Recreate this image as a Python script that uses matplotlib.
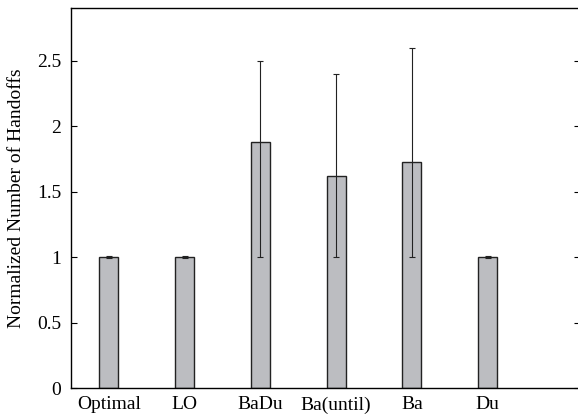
import numpy as np
import matplotlib
matplotlib.use("Agg")
import matplotlib.pyplot as plt

### Data ###
schemes = ["Optimal", "LO", "BaDu", "Ba(until)", "Ba", "Du"]
means = [1.0, 1.0, 1.88, 1.62, 1.73, 1.0]
err_low = [0.99, 0.99, 1.0, 1.0, 1.0, 0.99]    # lower end of error bar
err_high = [1.01, 1.01, 2.5, 2.4, 2.6, 1.01]   # upper end of error bar

plt.rcParams['font.family'] = ['Liberation Serif', 'DejaVu Serif']
plt.rcParams['font.size'] = 14

x = np.arange(len(schemes))
means = np.array(means)
yerr = [means - np.array(err_low), np.array(err_high) - means]

fig = plt.figure(figsize=(5.78, 4.19), dpi=100)
ax = fig.add_axes([71 / 578, 31 / 419, 509 / 578, 380 / 419])

ax.bar(x, means, width=0.25, color="#bcbdc1", edgecolor="#222222", linewidth=1.0,
       zorder=2)
ax.errorbar(x, means, yerr=yerr, fmt="none", ecolor="#222222", elinewidth=0.8,
            capsize=2.5, capthick=0.8, zorder=3)

ax.set_xlim(-0.5, 6.22)
ax.set_ylim(0, 2.905)
ax.set_yticks([0, 0.5, 1, 1.5, 2, 2.5])
ax.set_yticklabels(["0", "0.5", "1", "1.5", "2", "2.5"])
ax.set_xticks(x)
ax.set_xticklabels(schemes)
ax.tick_params(axis='y', direction='in', length=4, right=True, pad=7)
ax.tick_params(axis='x', length=0, pad=6)
ax.set_ylabel("Normalized Number of Handoffs", labelpad=9)
for s in ax.spines.values():
    s.set_linewidth(1.0)

fig.savefig("out.png", dpi=100)
